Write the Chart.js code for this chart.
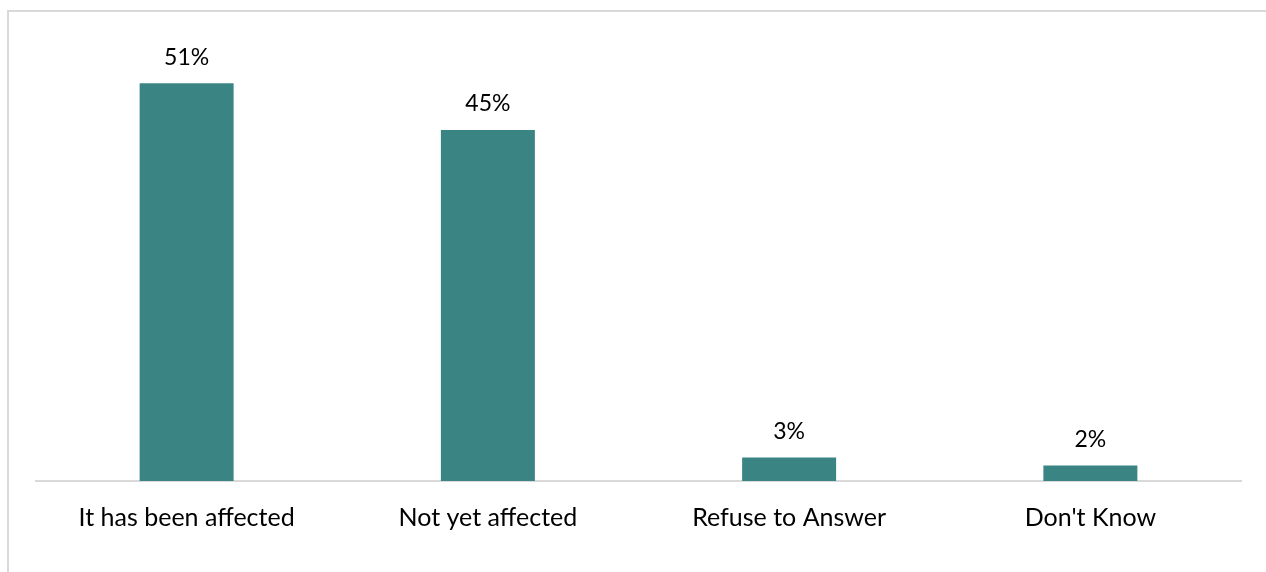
<!DOCTYPE html>
<html>
<head>
<meta charset="utf-8">
<script src="https://cdn.jsdelivr.net/npm/chart.js@4/dist/chart.umd.min.js"></script>
<style>
  html, body { margin:0; padding:0; background:#fff; overflow:hidden; }
  #frame { position:absolute; left:7px; top:10px; width:1270px; height:600px; border:2px solid #d9d9d9; box-sizing:border-box; }
  #wrap { position:absolute; left:0; top:0; width:1266px; height:572px; }
</style>
</head>
<body>
<div id="frame"></div>
<div id="wrap"><canvas id="myChart"></canvas></div>
<script>
  var labels = ['It has been affected', 'Not yet affected', 'Refuse to Answer', "Don't Know"]
  var values = [51, 45, 3, 2]
  var valueText = ['51%', '45%', '3%', '2%']

  // print the percentage above each bar
  var barLabels = {
    id: 'barLabels',
    afterDatasetsDraw: function(chart) {
      var ctx = chart.ctx
      var meta = chart.getDatasetMeta(0)
      ctx.save()
      ctx.font = '23px Lato'
      ctx.fillStyle = '#000'
      ctx.textAlign = 'center'
      ctx.textBaseline = 'middle'
      meta.data.forEach(function(bar, i) {
        ctx.fillText(valueText[i], bar.x, bar.y - 26)
      })
      ctx.restore()
    }
  }

  var ctx = document.getElementById('myChart')
  var myChart = new Chart(ctx, {
    type: 'bar',
    data: {
      labels: labels,
      datasets: [{
        data: values,
        backgroundColor: '#3b8484',
        barPercentage: 1,
        categoryPercentage: 0.312
      }]
    },
    options: {
      responsive: true,
      maintainAspectRatio: false,
      animation: false,
      layout: { padding: { left: 36, right: 25, top: 13, bottom: 0 } },
      plugins: { legend: { display: false }, tooltip: { enabled: false } },
      scales: {
        x: {
          grid: { display: false },
          border: { display: true, color: '#d9d9d9', width: 2 },
          ticks: { color: '#000', font: { family: 'Lato', size: 25 }, padding: 14 },
          afterFit: function(s) { s.height = 91 }
        },
        y: {
          display: false,
          min: 0,
          max: 60
        }
      }
    },
    plugins: [barLabels]
  })
</script>
</body>
</html>
